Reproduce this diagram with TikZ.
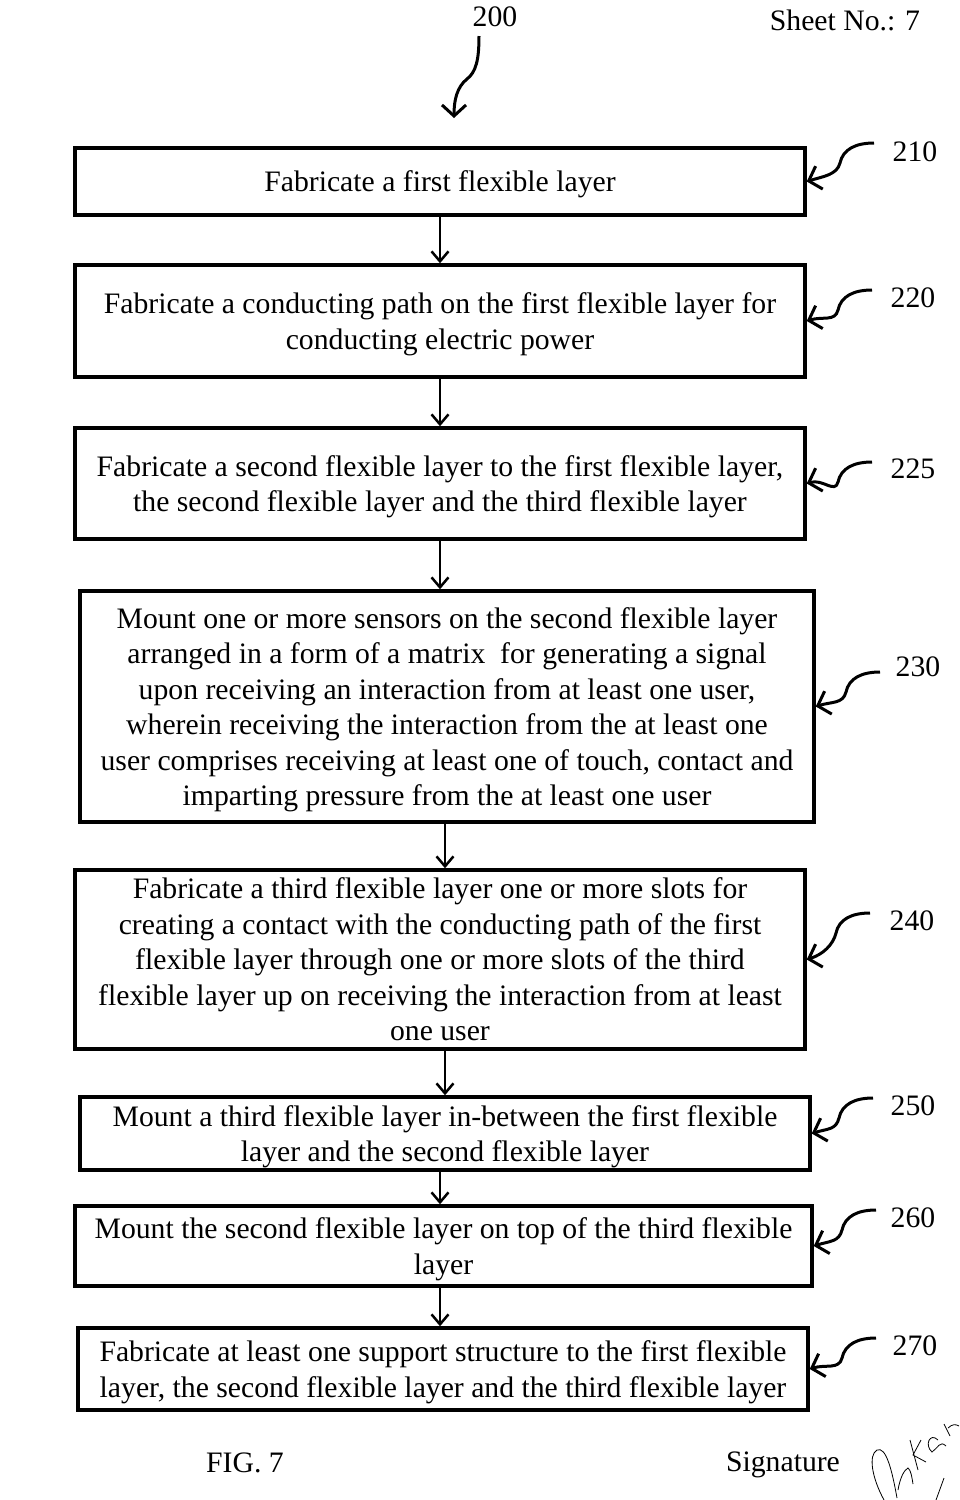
\documentclass[tikz,border=0pt]{standalone}
\usepackage{fontspec}
\setmainfont{Liberation Serif}
\usetikzlibrary{arrows.meta,calc}

\tikzset{
  stepbox/.style={draw, line width=3.5pt, inner sep=0pt, align=center, text depth=0pt,
    font=\fontsize{29.7}{35.5}\selectfont},
  reflabel/.style={font=\fontsize{29.7}{35.5}\selectfont, inner sep=0pt},
  flowarrow/.style={line width=2.5pt, -{Straight Barb[length=10pt,width=17pt,line width=2.5pt]}},
  curly/.style={line width=3pt, -{Straight Barb[length=11pt,width=24pt,line width=3pt]}}
}

% curly leader from a reference number to its box
\newcommand\refcurl[2]{%
  \draw[curly] (#1) .. controls ($(#1)+(-18,0)$) and ($(#1)+(-31,6)$) .. ($(#1)+(-34,20)$)
    .. controls ($(#1)+(-37,32)$) and ($(#2)+(16,-5)$) .. (#2);}

\begin{document}
\begin{tikzpicture}[x=1pt,y=-1pt]
\useasboundingbox (0,0) rectangle (959,1500);

% header
\node[reflabel] (l200) at (495,17) {200};
\node[reflabel] (sheet) at (845,20) {Sheet No.: 7};
\coordinate (c200) at (479,36);
\coordinate (t200) at (454,118);
\draw[curly] (c200) .. controls (479,60) and (476,72) .. (467,79)
  .. controls (457,87) and (454,100) .. (t200);

% steps
\node[stepbox, minimum width=730pt, minimum height=67pt] (b210) at (440,181.5)
  {Fabricate a first flexible layer};
\node[stepbox, minimum width=730pt, minimum height=112pt] (b220) at (440,321)
  {Fabricate a conducting path on the first flexible layer for\\conducting electric power};
\node[stepbox, minimum width=730pt, minimum height=111pt] (b225) at (440,483.5)
  {Fabricate a second flexible layer to the first flexible layer,\\the second flexible layer and the third flexible layer};
\node[stepbox, minimum width=734pt, minimum height=231pt] (b230) at (447,706.5)
  {Mount one or more sensors on the second flexible layer\\arranged in a form of a matrix \ for generating a signal\\upon receiving an interaction from at least one user,\\wherein receiving the interaction from the at least one\\user comprises receiving at least one of touch, contact and\\imparting pressure from the at least one user};
\node[stepbox, minimum width=730pt, minimum height=179pt] (b240) at (440,959.5)
  {Fabricate a third flexible layer one or more slots for\\creating a contact with the conducting path of the first\\flexible layer through one or more slots of the third\\flexible layer up on receiving the interaction from at least\\one user};
\node[stepbox, minimum width=730pt, minimum height=73pt] (b250) at (445,1133.5)
  {Mount a third flexible layer in-between the first flexible\\layer and the second flexible layer};
\node[stepbox, minimum width=737pt, minimum height=80pt] (b260) at (443.5,1246)
  {Mount the second flexible layer on top of the third flexible\\layer};
\node[stepbox, minimum width=730pt, minimum height=82pt] (b270) at (443,1369)
  {Fabricate at least one support structure to the first flexible\\layer, the second flexible layer and the third flexible layer};

% flow
\draw[flowarrow] (b210) -- (b220);
\draw[flowarrow] (b220) -- (b225);
\draw[flowarrow] (b225.south) -- (b225.south |- b230.north);
\draw[flowarrow] (b230.south -| 445,0) -- (b240.north -| 445,0);
\draw[flowarrow] (b240.south -| 445,0) -- (b250.north -| 445,0);
\draw[flowarrow] (b250.south -| 440,0) -- (b260.north -| 440,0);
\draw[flowarrow] (b260.south -| 440,0) -- (b270.north -| 440,0);

% reference numbers
\node[reflabel] (l210) at (915,152) {210};
\node[reflabel] (l220) at (913,298) {220};
\node[reflabel] (l225) at (913,469) {225};
\node[reflabel] (l230) at (918,667) {230};
\node[reflabel] (l240) at (912,921) {240};
\node[reflabel] (l250) at (913,1106) {250};
\node[reflabel] (l260) at (913,1218) {260};
\node[reflabel] (l270) at (915,1346) {270};
\coordinate (c210) at (874,143);
\coordinate (c220) at (872,290);
\coordinate (c225) at (872,462);
\coordinate (c230) at (880,672);
\coordinate (c240) at (870,913);
\coordinate (c250) at (873,1098);
\coordinate (c260) at (876,1210);
\coordinate (c270) at (876,1338);
\refcurl{c210}{b210.east}
\refcurl{c220}{b220.east}
\refcurl{c225}{b225.east}
\refcurl{c230}{b230.east}
\refcurl{c240}{b240.east}
\refcurl{c250}{b250.east}
\refcurl{c260}{b260.east}
\refcurl{c270}{b270.east}

% footer
\node[reflabel] (fig) at (245,1463) {FIG. 7};
\node[reflabel] (sign) at (783,1465) {Signature};
\draw[line width=0.8pt] (884,1500) .. controls (872,1478) and (868,1455) .. (877,1450)
  .. controls (886,1446) and (892,1470) .. (897,1498);
\draw[line width=0.8pt] (898,1490) .. controls (900,1478) and (904,1470) .. (908,1468)
  .. controls (911,1470) and (912,1478) .. (913,1484);
\draw[line width=0.8pt] (918,1470) -- (910,1440) (921,1440) -- (913,1455) -- (926,1462);
\draw[line width=0.8pt] (938,1440) .. controls (930,1432) and (924,1445) .. (932,1452)
  .. controls (938,1448) and (940,1440) .. (946,1446);
\draw[line width=0.8pt] (950,1436) -- (944,1424) (948,1428) .. controls (952,1424) and (956,1424) .. (959,1426);
\draw[line width=0.8pt] (944,1478) -- (936,1500);
\end{tikzpicture}
\end{document}
